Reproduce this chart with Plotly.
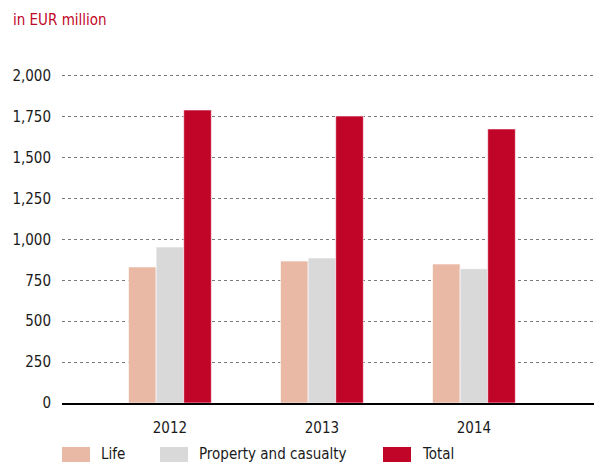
import plotly.graph_objects as go

years = ["2012", "2013", "2014"]
life = [832, 868, 850]
property_casualty = [954, 887, 821]
total = [1792, 1755, 1676]
y_ticks = [0, 250, 500, 750, 1000, 1250, 1500, 1750, 2000]
y_tick_labels = ["0", "250", "500", "750", "1,000", "1,250", "1,500", "1,750", "2,000"]
series_names = ["Life", "Property and casualty", "Total"]
series_colors = ["#e9b9a5", "#d9d9d9", "#c10528"]

FONT = "DejaVu Sans Condensed, Liberation Sans Narrow, Roboto, sans-serif"
W, H = 594, 463
L, R, T, B = 62, 0, 74, 60
PW, PH = W - L - R, H - T - B

def px_x(px):
    return (px - L) / PW

def px_y(py):
    return (H - B - py) / PH

fig = go.Figure()
for name, vals, col in zip(series_names, [life, property_casualty, total], series_colors):
    fig.add_trace(go.Bar(x=years, y=vals, name=name, marker_color=col,
                         marker_line_color="white", marker_line_width=0.6,
                         showlegend=False))

# custom legend
shapes = []
annotations = [dict(text="in EUR million", xref="paper", yref="paper",
                    x=px_x(11), xanchor="left", y=px_y(20), yanchor="middle",
                    showarrow=False, font=dict(size=15, color="#c10528", family=FONT))]
legend_x = [62, 160, 383]
for name, col, lx in zip(series_names, series_colors, legend_x):
    shapes.append(dict(type="rect", xref="paper", yref="paper",
                       x0=px_x(lx), x1=px_x(lx + 28), y0=px_y(462), y1=px_y(447),
                       fillcolor=col, line_width=0))
    annotations.append(dict(text=name, xref="paper", yref="paper",
                            x=px_x(lx + 37), xanchor="left", y=px_y(454), yanchor="middle",
                            showarrow=False, font=dict(size=15, color="#1a1a1a", family=FONT)))

fig.update_layout(
    width=W, height=H,
    margin=dict(l=L, r=R, t=T, b=B),
    paper_bgcolor="white", plot_bgcolor="white",
    barmode="group", bargap=0.455, bargroupgap=0,
    font=dict(family=FONT, size=15, color="#1a1a1a"),
    showlegend=False,
    shapes=shapes, annotations=annotations,
)
fig.update_xaxes(type="category", range=[-0.71, 2.79], showgrid=False,
                 showline=True, linecolor="black", linewidth=2,
                 ticks="", tickfont=dict(size=15), automargin=False,
                 ticklabelstandoff=10)
fig.update_yaxes(range=[0, 2012], tickvals=y_ticks, ticktext=y_tick_labels,
                 showgrid=True, gridcolor="#7a7a7a", griddash="dot", gridwidth=1,
                 zeroline=False, showline=False, ticks="", ticklabelstandoff=10,
                 tickfont=dict(size=15), automargin=False)
fig.write_html("out.html", config={"displayModeBar": False},
               post_script="document.body.style.margin='0';document.body.style.padding='0';")
